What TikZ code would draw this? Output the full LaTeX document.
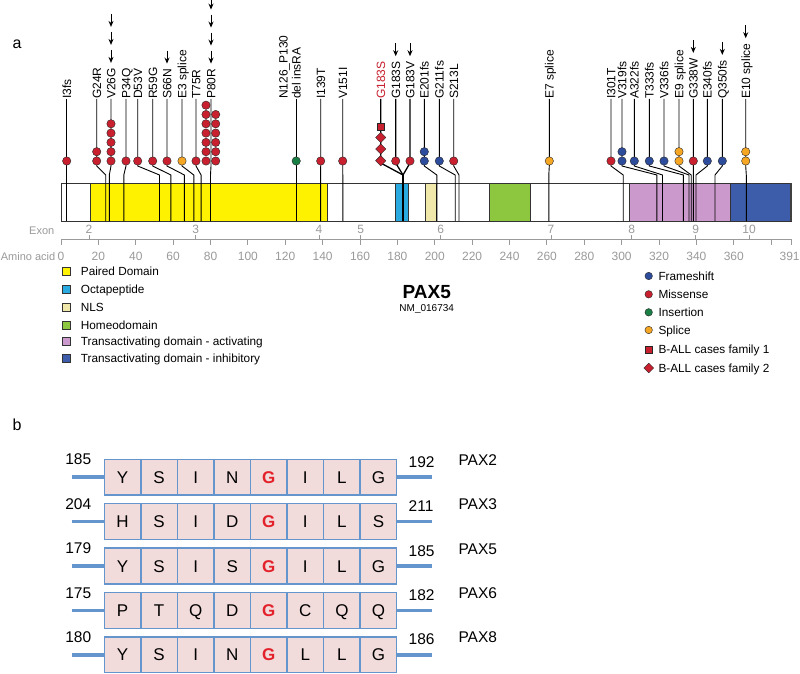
\documentclass[tikz,border=0pt]{standalone}
\usepackage{fontspec}
\setmainfont{Liberation Sans}
\usetikzlibrary{arrows.meta,calc,shapes.geometric}
\definecolor{cyel}{HTML}{FFF200}
\definecolor{ccyan}{HTML}{29ABE2}
\definecolor{cnls}{HTML}{EFE8AA}
\definecolor{cgreen}{HTML}{8DC63F}
\definecolor{cpink}{HTML}{CC99CC}
\definecolor{cblue}{HTML}{3D5DAB}
\definecolor{mblue}{HTML}{2E4C9C}
\definecolor{mred}{HTML}{C8202F}
\definecolor{mgreen}{HTML}{1A7F45}
\definecolor{morange}{HTML}{F5A623}
\definecolor{axgray}{HTML}{9A9A9A}
\definecolor{bblue}{HTML}{6495CD}
\definecolor{bpink}{HTML}{F2DCDB}
\definecolor{gred}{HTML}{E3212B}
\tikzset{
  lbl/.style={rotate=90,anchor=west,inner sep=0pt,font=\fontsize{12}{13}\selectfont,text height=8.6pt,text depth=0pt},
  conn/.style={line width=0.9pt,black},
  dotc/.style={circle,draw=black!85,line width=0.4pt,minimum size=8.4pt,inner sep=0pt},
  arrw/.style={line width=1pt,-{Stealth[length=6pt,width=5pt]}},
  dom/.style={draw=black!80,line width=0.8pt},
  axis/.style={draw=axgray,line width=0.9pt},
  ticklbl/.style={text=axgray,font=\fontsize{12}{13}\selectfont,inner sep=0pt,text height=8.6pt,text depth=0pt},
  legsq/.style={draw=black!80,line width=0.5pt,minimum size=8pt,inner sep=0pt},
  legtxt/.style={anchor=west,inner sep=0pt,font=\fontsize{11.8}{13}\selectfont,text height=8.5pt,text depth=0pt},
  aabox/.style={draw=bblue,fill=bpink,line width=1.4pt,minimum width=36.55pt,minimum height=35.7pt,inner sep=0pt,font=\fontsize{17}{19}\selectfont,text height=12.2pt,text depth=0pt},
  stub/.style={draw=bblue,line width=3.5pt},
  numb/.style={inner sep=0pt,font=\fontsize{15.5}{17}\selectfont,text height=11.1pt,text depth=0pt}
}
\newcommand\lolli[4]{%
  \node[lbl] (#1) at (#2,99) {#4};
  \coordinate (#1b) at (#3,221);
  \draw[conn] (#1.west) -- (#2,166) -- (#3,175) -- (#1b);
}
\newcommand\stack[3]{%
  \foreach \i in {1,...,#2}{\node[dotc,fill=#3] at (#1,{161-(\i-1)*9.3}) {};}
}
\newcommand\arrs[2]{%
  \foreach \i in {1,...,#2}{\draw[arrw] ($(#1.east)+(0,{-18-18*(\i-1)})$) -- ($(#1.east)+(0,{-5-18*(\i-1)})$);}
}
\newcommand\redG{\textcolor{gred}{\bfseries G}}
\newcommand\aarow[6]{%
  \foreach \l [count=\c] in {#6}{\node[aabox] (r#1c\c) at ({104.3+36.55*(\c-0.5)},{#2+17.85}) {\l};}
  \coordinate (r#1L) at (71.7,{#2+17.85});
  \coordinate (r#1R) at (432.3,{#2+17.85});
  \draw[stub] (r#1L) -- (r#1c1.west);
  \draw[stub] (r#1c8.east) -- (r#1R);
  \node[numb] (r#1ln) at (78.3,{#2}) {#3};
  \node[numb,anchor=west] (r#1rn) at (408.5,{#2+2.5}) {#4};
  \node[numb,anchor=west] (r#1px) at (458.3,{#2+0.5}) {#5};
}
\begin{document}
\begin{tikzpicture}[x=1pt,y=-1pt]
\useasboundingbox (0,0) rectangle (800,674);
\fill[white] (0,0) rectangle (800,674);
% panel letters
\node[font=\fontsize{16}{18}\selectfont,inner sep=0pt] (pa) at (17,44) {a};
\node[font=\fontsize{16}{18}\selectfont,inner sep=0pt] (pb) at (17,425) {b};
% protein bar
\draw[dom,fill=white] (61,183) rectangle (791.8,221);
\draw[dom,fill=cyel] (90.7,183) rectangle (327.7,221);
\draw[dom,fill=ccyan] (395.3,183) rectangle (408.3,221);
\draw[dom,fill=cnls] (425.7,183) rectangle (436.7,221);
\draw[dom,fill=cgreen] (489,183) rectangle (530.3,221);
\draw[dom,fill=cpink] (629.3,183) rectangle (730,221);
\draw[dom,fill=cblue] (730,183) rectangle (790,221);
\fill[black!75] (790,183) rectangle (791.8,221);
% axis
\node[anchor=east,inner sep=0pt,text=axgray,font=\fontsize{11}{13}\selectfont,text height=8pt,text depth=0pt] (exl) at (54.5,230) {Exon};
\node[anchor=east,inner sep=0pt,text=axgray,font=\fontsize{11}{13}\selectfont,text height=8pt,text depth=0pt] (aal) at (55.5,256) {Amino acid};
\draw[axis] (61,239) -- (791.7,239);
\foreach \v in {0,20,...,380}{
  \draw[axis] ({61+\v*1.8688},239) -- ++(0,6);
}
\foreach \v in {0,20,...,360}{
  \node[ticklbl] at ({61+\v*1.8688},256) {\v};
}
\draw[axis] (791.7,239) -- ++(0,6);
\node[ticklbl,anchor=east] (t391) at (799.8,256) {391};
\foreach \x/\e in {89/2,195.7/3,319/4,360.7/5,440.7/6,551/7,631.7/8,695.7/9,749/10}{
  \draw[axis] (\x,239) -- ++(0,-4);
  \node[ticklbl] at (\x,229.5) {\e};
}
% lollipops
\lolli{m1}{66.7}{66.7}{I3fs}
\lolli{m2}{96.7}{105.7}{G24R}
\lolli{m3}{111}{109.3}{V26G}
\lolli{m4}{126}{123.8}{P34Q}
\lolli{m5}{137.7}{159.5}{D53V}
\lolli{m6}{152.7}{170.8}{R59G}
\lolli{m7}{167}{184.4}{S66N}
\lolli{m8}{182}{193.8}{E3 splice}
\lolli{m9}{196}{201.1}{T75R}
\lolli{m10}{211}{210.5}{P80R}
\node[lbl,align=left] (m11) at (296.2,99) {N126\_P130\\del insRA};
\coordinate (m11b) at (296.2,221);
\draw[conn] (m11.west) -- (m11b);
\lolli{m12}{320.7}{320.6}{I139T}
\lolli{m13}{342.7}{342.8}{V151I}
% G183 group
\node[lbl,text=mred] (g1) at (380.7,99) {G183S};
\node[lbl] (g2) at (395.7,99) {G183S};
\node[lbl] (g3) at (410,99) {G183V};
\coordinate (gj) at (403,175);
\coordinate (gb) at (403,221);
\draw[conn,line width=1.3pt] (g1.west) -- (380.7,163) -- (gj);
\draw[conn,line width=1.3pt] (g2.west) -- (395.7,163) -- (gj);
\draw[conn,line width=1.3pt] (g3.west) -- (410,163) -- (gj);
\draw[conn,line width=1.8pt] (gj) -- (gb);
\lolli{m17}{424.3}{436.8}{E201fs}
\lolli{m18}{439.3}{455.2}{G211fs}
\lolli{m19}{453.7}{459}{S213L}
\lolli{m20}{549.3}{548.8}{E7 splice}
\lolli{m21}{611}{623.2}{I301T}
\lolli{m22}{622}{656.9}{V319fs}
\lolli{m23}{634.3}{662.5}{A322fs}
\lolli{m24}{649.3}{683.4}{T333fs}
\lolli{m25}{664}{689}{V336fs}
\lolli{m26}{679}{691.2}{E9 splice}
\lolli{m27}{693.3}{693.4}{G338W}
\lolli{m28}{707.3}{696}{E340fs}
\lolli{m29}{722.3}{715}{Q350fs}
\lolli{m30}{745.7}{746.3}{E10 splice}
% markers
\stack{66.7}{1}{mred}
\stack{96.7}{2}{mred}
\stack{111}{5}{mred}
\stack{126}{1}{mred}
\stack{137.7}{1}{mred}
\stack{152.7}{1}{mred}
\stack{167}{1}{mred}
\stack{182}{1}{morange}
\stack{196}{1}{mred}
\stack{206}{7}{mred}
\stack{215.7}{6}{mred}
\stack{296.2}{1}{mgreen}
\stack{320.7}{1}{mred}
\stack{342.7}{1}{mred}
\foreach \yy in {160.7,149,137.5}{\node[diamond,draw=black!85,line width=0.4pt,fill=mred,minimum size=10.5pt,inner sep=0pt] at (380.7,\yy) {};}
\node[rectangle,draw=black!85,line width=0.4pt,fill=mred,minimum size=7.5pt,inner sep=0pt] (gsq) at (380.7,126.7) {};
\stack{395.7}{1}{mred}
\stack{410}{1}{mred}
\stack{424.3}{2}{mblue}
\stack{439.3}{1}{mblue}
\stack{453.7}{1}{mred}
\stack{549.3}{1}{morange}
\stack{611}{1}{mred}
\stack{622}{2}{mblue}
\stack{634.3}{1}{mblue}
\stack{649.3}{1}{mblue}
\stack{664}{1}{mblue}
\stack{679}{2}{morange}
\stack{693.3}{1}{mred}
\stack{707.3}{1}{mblue}
\stack{722.3}{1}{mblue}
\stack{745.7}{2}{morange}
% arrows
\arrs{m3}{3}
\arrs{m7}{1}
\arrs{m10}{4}
\arrs{g2}{1}
\arrs{g3}{1}
\arrs{m27}{1}
\arrs{m29}{1}
\arrs{m30}{1}
% left legend
\foreach \c/\t/\yy [count=\k] in {cyel/Paired Domain/271.2,ccyan/Octapeptide/288.8,cnls/NLS/307.5,cgreen/Homeodomain/325,cpink/Transactivating domain - activating/341.5,cblue/Transactivating domain - inhibitory/358.5}{
  \node[legsq,fill=\c] (lq\k) at (66,\yy) {};
  \node[legtxt] (lt\k) at (80.7,\yy) {\t};
}
% title
\node[inner sep=0pt,font=\bfseries\fontsize{19}{21}\selectfont,text height=13.6pt,text depth=0pt] (title) at (426.7,291.7) {PAX5};
\node[inner sep=0pt,font=\fontsize{10}{12}\selectfont,text height=7.2pt,text depth=0pt] (acc) at (426.7,308.3) {NM\_016734};
% right legend
\foreach \c/\t/\yy [count=\k] in {mblue/Frameshift/276,mred/Missense/294.3,mgreen/Insertion/312.3,morange/Splice/330}{
  \node[dotc,minimum size=7.5pt,fill=\c] (rq\k) at (648.7,\yy) {};
  \node[legtxt] (rt\k) at (658.3,\yy) {\t};
}
\node[rectangle,draw=black!85,line width=0.4pt,fill=mred,minimum size=7.5pt,inner sep=0pt] (rq5) at (648.7,349.5) {};
\node[legtxt] (rt5) at (658.3,349.5) {B-ALL cases family 1};
\node[diamond,draw=black!85,line width=0.4pt,fill=mred,minimum size=10pt,inner sep=0pt] (rq6) at (648.7,368) {};
\node[legtxt] (rt6) at (658.3,368) {B-ALL cases family 2};
% panel b
\aarow{1}{459.3}{185}{192}{PAX2}{Y,S,I,N,\redG,I,L,G}
\aarow{2}{503.7}{204}{211}{PAX3}{H,S,I,D,\redG,I,L,S}
\aarow{3}{548.1}{179}{185}{PAX5}{Y,S,I,S,\redG,I,L,G}
\aarow{4}{592.5}{175}{182}{PAX6}{P,T,Q,D,\redG,C,Q,Q}
\aarow{5}{636.9}{180}{186}{PAX8}{Y,S,I,N,\redG,L,L,G}
\end{tikzpicture}
\end{document}
